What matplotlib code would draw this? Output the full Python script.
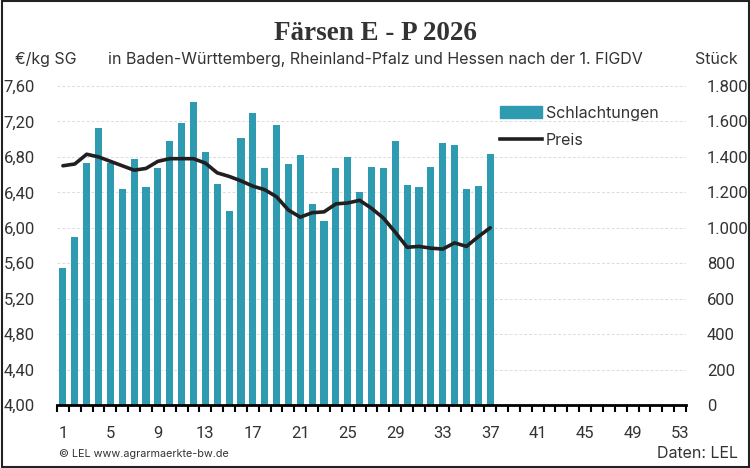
import matplotlib
matplotlib.use("Agg")
import matplotlib.pyplot as plt
from matplotlib.patches import Rectangle, Patch
from matplotlib.lines import Line2D
from matplotlib.ticker import FuncFormatter

plt.rcParams['font.family'] = ['Inter', 'DejaVu Sans']

# Kalenderwochen 2026
wochen = list(range(1, 38))
# Schlachtungen (Stück)
schlachtungen = [775, 950, 1365, 1565, 1365, 1220, 1390, 1232, 1340, 1492,
                 1593, 1712, 1429, 1249, 1096, 1509, 1650, 1340, 1582, 1362,
                 1412, 1135, 1040, 1340, 1401, 1203, 1345, 1340, 1492, 1243,
                 1232, 1345, 1480, 1469, 1220, 1237, 1418]
# Preis (€/kg SG)
preis = [6.70, 6.72, 6.83, 6.80, 6.75, 6.70, 6.65, 6.67, 6.75, 6.78,
         6.78, 6.78, 6.73, 6.62, 6.58, 6.53, 6.47, 6.43, 6.35, 6.20,
         6.12, 6.17, 6.18, 6.27, 6.28, 6.31, 6.22, 6.11, 5.95, 5.78,
         5.79, 5.77, 5.76, 5.83, 5.79, 5.90, 6.00]

preis_ticks = [4.0, 4.4, 4.8, 5.2, 5.6, 6.0, 6.4, 6.8, 7.2, 7.6]
stueck_ticks = [0, 200, 400, 600, 800, 1000, 1200, 1400, 1600, 1800]
x_labels = list(range(1, 54, 4))

bar_col = '#2e9bb0'
line_col = '#231f20'
txt_col = '#333333'
zahl_font = ['Roboto', 'DejaVu Sans']

fig = plt.figure(figsize=(7.5, 4.68), dpi=100)
ax = fig.add_axes([0.076, 0.1346, 0.8387, 0.6816])
ax2 = ax.twinx()

# Balken hinten, Linie vorne
ax2.bar(wochen, schlachtungen, width=0.6, color=bar_col, zorder=2)
ax2.set_ylim(0, 1800)
ax2.set_yticks(stueck_ticks)
ax2.yaxis.set_major_formatter(FuncFormatter(lambda v, p: '{:,.0f}'.format(v).replace(',', '.')))

ax.plot(wochen, preis, color=line_col, lw=2.6, solid_capstyle='round', zorder=5)
ax.set_ylim(4.0, 7.6)
ax.set_yticks(preis_ticks)
ax.yaxis.set_major_formatter(FuncFormatter(lambda v, p: '{:.2f}'.format(v).replace('.', ',')))
ax.set_zorder(ax2.get_zorder() + 1)
ax.patch.set_visible(False)

for t in preis_ticks[1:]:
    ax2.axhline((t - 4.0) / 3.6 * 1800, color='#dcdcdc', lw=0.7, ls=(0, (3, 2)), zorder=0)

ax.set_xlim(0.5, 53.5)
ax.set_xticks([w + 0.5 for w in range(0, 54)])
ax.set_xticks(x_labels, minor=True)
ax.set_xticklabels([])
ax.set_xticklabels([str(v) for v in x_labels], minor=True)
ax.tick_params(axis='x', which='major', length=5, width=1.5, color='black', direction='out')
ax.tick_params(axis='x', which='minor', length=0, pad=15, labelsize=12, labelcolor=txt_col)
ax.tick_params(axis='y', length=0, pad=16, labelsize=12, labelcolor=txt_col)
ax2.tick_params(axis='y', length=0, pad=15, labelsize=12, labelcolor=txt_col)
for lab in ax.get_xticklabels(minor=True) + ax.get_yticklabels() + ax2.get_yticklabels():
    lab.set_family(zahl_font)

for a in (ax, ax2):
    for s in ('top', 'left', 'right'):
        a.spines[s].set_visible(False)
ax2.spines['bottom'].set_visible(False)
ax.spines['bottom'].set_linewidth(2)
ax.spines['bottom'].set_color('black')

# Legende
handles = [Patch(color=bar_col, label='Schlachtungen'),
           Line2D([], [], color=line_col, lw=2.6, label='Preis')]
leg = fig.legend(handles=handles, loc='upper left', bbox_to_anchor=(0.648, 0.805),
                 frameon=False, fontsize=11.5, handlelength=2.6, handletextpad=0.25,
                 labelspacing=0.75, labelcolor=txt_col)

fig.text(0.5, 0.929, 'Färsen E - P 2026', ha='center', va='center',
         family='Liberation Serif', fontweight='bold', fontsize=19.5, color=txt_col)
fig.text(0.5, 0.872, 'in Baden-Württemberg, Rheinland-Pfalz und Hessen nach der 1. FlGDV',
         ha='center', va='center', fontsize=11.5, color=txt_col)
fig.text(0.02, 0.872, '€/kg SG', ha='left', va='center', fontsize=11.5, color=txt_col)
fig.text(0.984, 0.872, 'Stück', ha='right', va='center', fontsize=11.5, color=txt_col)
fig.text(0.079, 0.03, '© LEL www.agrarmaerkte-bw.de', ha='left', va='center',
         fontsize=7.8, color=txt_col)
fig.text(0.984, 0.032, 'Daten: LEL', ha='right', va='center', fontsize=11.5, color=txt_col)

fig.patches.append(Rectangle((0.002, 0.003), 0.996, 0.994, transform=fig.transFigure,
                             fill=False, ec='#222222', lw=1.5))

fig.savefig('out.png', dpi=100)
